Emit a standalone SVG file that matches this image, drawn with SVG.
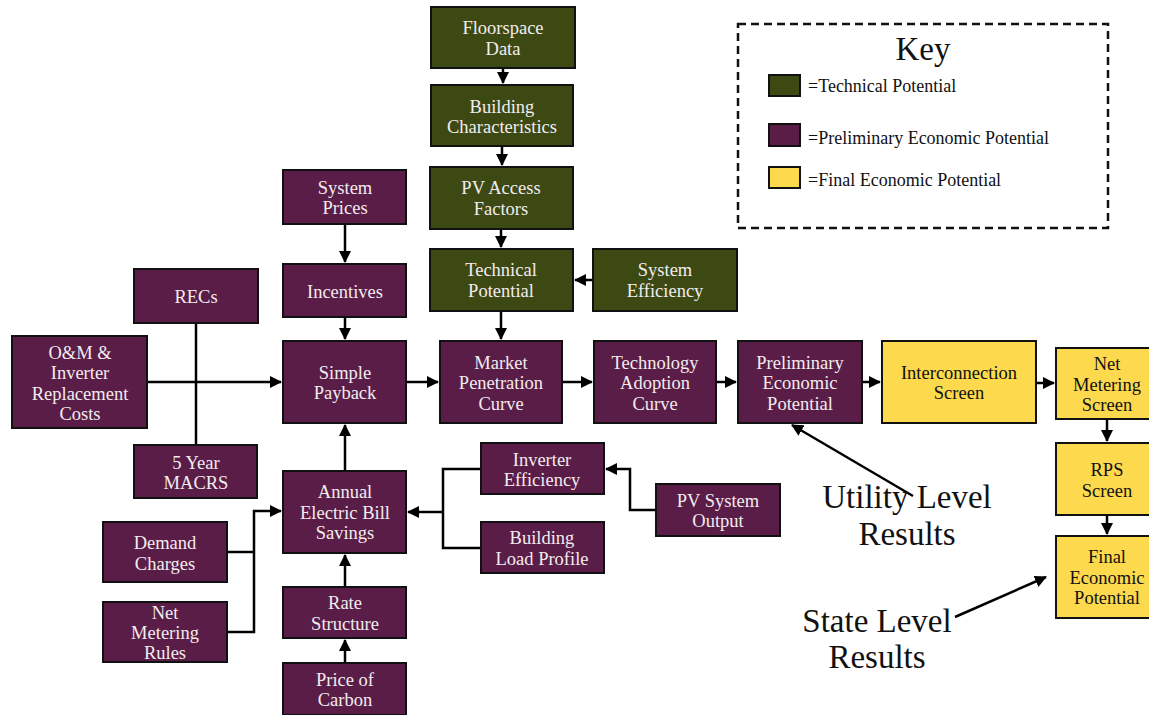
<svg xmlns="http://www.w3.org/2000/svg" width="1149" height="715" viewBox="0 0 1149 715">
<style>
.g{fill:#3d4913;stroke:#111;stroke-width:2}
.p{fill:#5a1d47;stroke:#111;stroke-width:2}
.y{fill:#fdd94e;stroke:#111;stroke-width:2}
text{font-family:"Liberation Serif","DejaVu Serif",serif;font-size:18.5px;text-anchor:middle}
.w{fill:#f2ecef}
.k{fill:#111}
.c{fill:none;stroke:#000;stroke-width:2.5}
.big{font-size:33px;fill:#111}
.key{font-size:18px;text-anchor:start;fill:#111}
</style>
<defs>
<marker id="a" markerUnits="userSpaceOnUse" markerWidth="12" markerHeight="12" refX="11" refY="6" orient="auto">
<path d="M0,0 L12,6 L0,12 Z" fill="#000"/>
</marker>
</defs>
<rect width="1149" height="715" fill="#fff"/>

<g id="connectors">
<path class="c" d="M503,68 V83" marker-end="url(#a)"/>
<path class="c" d="M502,146 V165" marker-end="url(#a)"/>
<path class="c" d="M501,229 V247" marker-end="url(#a)"/>
<path class="c" d="M593,280 H575" marker-end="url(#a)"/>
<path class="c" d="M501,311 V339" marker-end="url(#a)"/>
<path class="c" d="M345,224 V262" marker-end="url(#a)"/>
<path class="c" d="M345,317 V339" marker-end="url(#a)"/>
<path class="c" d="M147,382 H281" marker-end="url(#a)"/>
<path class="c" d="M196,323 V445"/>
<path class="c" d="M406,382 H438" marker-end="url(#a)"/>
<path class="c" d="M562,382 H592" marker-end="url(#a)"/>
<path class="c" d="M716,382 H736" marker-end="url(#a)"/>
<path class="c" d="M862,382 H880" marker-end="url(#a)"/>
<path class="c" d="M1036,383 H1054" marker-end="url(#a)"/>
<path class="c" d="M1107,419 V441" marker-end="url(#a)"/>
<path class="c" d="M1107,515 V534" marker-end="url(#a)"/>
<path class="c" d="M345,471 V425" marker-end="url(#a)"/>
<path class="c" d="M345,587 V555" marker-end="url(#a)"/>
<path class="c" d="M345,663 V640" marker-end="url(#a)"/>
<path class="c" d="M227,552 H254"/>
<path class="c" d="M227,632 H254 V511 H281" marker-end="url(#a)"/>
<path class="c" d="M481,469 H443 V548 H481"/>
<path class="c" d="M443,512 H408" marker-end="url(#a)"/>
<path class="c" d="M656,510 H630 V469 H606" marker-end="url(#a)"/>
<path class="c" d="M913,496 L792,425" marker-end="url(#a)"/>
<path class="c" d="M955,617 L1046,577" marker-end="url(#a)"/>
</g>

<g id="floorspace"><rect class="g" x="431" y="7" width="144" height="61"/><text class="w" x="503" y="34">Floorspace</text><text class="w" x="503" y="55">Data</text></g>
<g id="building-char"><rect class="g" x="431" y="85" width="142" height="61"/><text class="w" x="502" y="113">Building</text><text class="w" x="502" y="133">Characteristics</text></g>
<g id="pv-access"><rect class="g" x="430" y="167" width="143" height="62"/><text class="w" x="501" y="194">PV Access</text><text class="w" x="501" y="215">Factors</text></g>
<g id="technical"><rect class="g" x="430" y="249" width="143" height="62"/><text class="w" x="501" y="276">Technical</text><text class="w" x="501" y="297">Potential</text></g>
<g id="sys-eff"><rect class="g" x="593" y="249" width="144" height="62"/><text class="w" x="665" y="276">System</text><text class="w" x="665" y="297">Efficiency</text></g>

<g id="sys-prices"><rect class="p" x="283" y="170" width="123" height="54"/><text class="w" x="345" y="194">System</text><text class="w" x="345" y="214">Prices</text></g>
<g id="incentives"><rect class="p" x="283" y="264" width="123" height="53"/><text class="w" x="345" y="298">Incentives</text></g>
<g id="recs"><rect class="p" x="134" y="269" width="124" height="54"/><text class="w" x="196" y="303">RECs</text></g>
<g id="om"><rect class="p" x="12" y="336" width="135" height="92"/><text class="w" x="80" y="359">O&amp;M &amp;</text><text class="w" x="80" y="379">Inverter</text><text class="w" x="80" y="400">Replacement</text><text class="w" x="80" y="420">Costs</text></g>
<g id="payback"><rect class="p" x="283" y="341" width="123" height="82"/><text class="w" x="345" y="379">Simple</text><text class="w" x="345" y="399">Payback</text></g>
<g id="macrs"><rect class="p" x="134" y="445" width="123" height="53"/><text class="w" x="196" y="469">5 Year</text><text class="w" x="196" y="489">MACRS</text></g>
<g id="demand"><rect class="p" x="103" y="522" width="124" height="60"/><text class="w" x="165" y="549">Demand</text><text class="w" x="165" y="570">Charges</text></g>
<g id="nm-rules"><rect class="p" x="103" y="602" width="124" height="60"/><text class="w" x="165" y="619">Net</text><text class="w" x="165" y="639">Metering</text><text class="w" x="165" y="659">Rules</text></g>
<g id="bill"><rect class="p" x="283" y="471" width="123" height="82"/><text class="w" x="345" y="498">Annual</text><text class="w" x="345" y="519">Electric Bill</text><text class="w" x="345" y="539">Savings</text></g>
<g id="rate"><rect class="p" x="283" y="587" width="123" height="51"/><text class="w" x="345" y="609">Rate</text><text class="w" x="345" y="630">Structure</text></g>
<g id="carbon"><rect class="p" x="283" y="663" width="123" height="52"/><text class="w" x="345" y="686">Price of</text><text class="w" x="345" y="706">Carbon</text></g>
<g id="inverter"><rect class="p" x="481" y="443" width="123" height="51"/><text class="w" x="542" y="466">Inverter</text><text class="w" x="542" y="486">Efficiency</text></g>
<g id="load"><rect class="p" x="481" y="522" width="123" height="51"/><text class="w" x="542" y="544">Building</text><text class="w" x="542" y="565">Load Profile</text></g>
<g id="pv-output"><rect class="p" x="656" y="484" width="124" height="52"/><text class="w" x="718" y="507">PV System</text><text class="w" x="718" y="527">Output</text></g>

<g id="market"><rect class="p" x="440" y="341" width="122" height="82"/><text class="w" x="501" y="369">Market</text><text class="w" x="501" y="389">Penetration</text><text class="w" x="501" y="410">Curve</text></g>
<g id="adoption"><rect class="p" x="594" y="341" width="122" height="82"/><text class="w" x="655" y="369">Technology</text><text class="w" x="655" y="389">Adoption</text><text class="w" x="655" y="410">Curve</text></g>
<g id="prelim"><rect class="p" x="738" y="341" width="124" height="82"/><text class="w" x="800" y="369">Preliminary</text><text class="w" x="800" y="389">Economic</text><text class="w" x="800" y="410">Potential</text></g>
<g id="interconnection"><rect class="y" x="882" y="341" width="154" height="82"/><text class="k" x="959" y="379">Interconnection</text><text class="k" x="959" y="399">Screen</text></g>
<g id="nm-screen"><rect class="y" x="1056" y="348" width="102" height="71"/><text class="k" x="1107" y="370">Net</text><text class="k" x="1107" y="391">Metering</text><text class="k" x="1107" y="411">Screen</text></g>
<g id="rps"><rect class="y" x="1056" y="443" width="102" height="72"/><text class="k" x="1107" y="476">RPS</text><text class="k" x="1107" y="497">Screen</text></g>
<g id="final"><rect class="y" x="1056" y="536" width="102" height="82"/><text class="k" x="1107" y="563">Final</text><text class="k" x="1107" y="584">Economic</text><text class="k" x="1107" y="604">Potential</text></g>

<g id="utility-label"><text class="big" x="907" y="508">Utility Level</text><text class="big" x="907" y="545">Results</text></g>
<g id="state-label"><text class="big" x="877" y="632">State Level</text><text class="big" x="877" y="668">Results</text></g>

<g id="key">
<rect x="738" y="24" width="370" height="204" fill="none" stroke="#111" stroke-width="2.5" stroke-dasharray="8,5"/>
<text class="big" x="923" y="60">Key</text>
<rect class="g" x="769" y="75" width="31" height="21"/><text class="key" x="808" y="92">=Technical Potential</text>
<rect class="p" x="769" y="124" width="31" height="22"/><text class="key" x="808" y="144">=Preliminary Economic Potential</text>
<rect class="y" x="769" y="167" width="31" height="21"/><text class="key" x="808" y="186">=Final Economic Potential</text>
</g>
</svg>
